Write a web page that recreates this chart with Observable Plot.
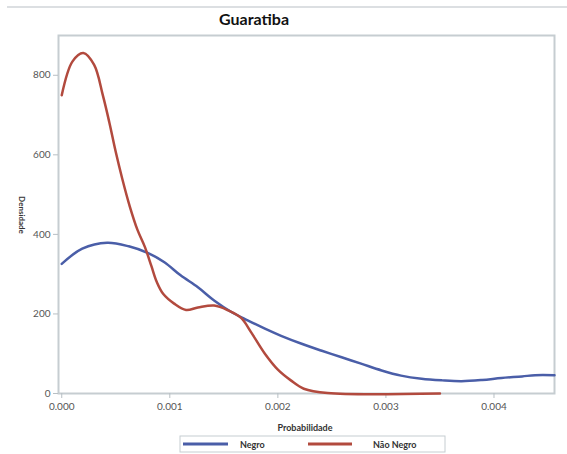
<!DOCTYPE html>
<html>
<head>
<meta charset="utf-8">
<script src="https://cdn.jsdelivr.net/npm/d3@7"></script>
<script src="https://cdn.jsdelivr.net/npm/@observablehq/plot@0.6"></script>
<style>
  html, body { margin: 0; padding: 0; background: #fff; }
  #chart { width: 567px; height: 454px; }
</style>
</head>
<body>
<div id="chart"></div>
<script>
// ---- data ----
const title = "Guaratiba";
const xLabel = "Probabilidade";
const yLabel = "Densidade";
const seriesNames = ["Negro", "Não Negro"];
const seriesColors = ["#4a5ea8", "#b24a3e"];
const xTicks = [0, 0.001, 0.002, 0.003, 0.004];
const yTicks = [0, 200, 400, 600, 800];

const negroX = [0, 0.00019, 0.00042, 0.00062, 0.0008, 0.00095, 0.0011, 0.00126, 0.00141, 0.00157, 0.00172, 0.00188, 0.00203, 0.00222, 0.0024, 0.00259, 0.00277, 0.00296, 0.00314, 0.00333, 0.00352, 0.0037, 0.00389, 0.00407, 0.00426, 0.00438, 0.00456];
const negroY = [326, 364, 379, 370, 353, 330, 297, 267, 234, 205, 184, 163, 145, 125, 108, 91, 75, 58, 45, 37, 33, 31, 34, 39, 43, 46, 46];

const naoNegroX = [0, 0.0001, 0.0002, 0.0003, 0.00038, 0.00044, 0.0005, 0.00056, 0.00063, 0.0007, 0.00077, 0.00083, 0.00088, 0.00094, 0.00104, 0.00115, 0.00126, 0.00141, 0.00154, 0.00166, 0.00175, 0.00188, 0.002, 0.00212, 0.00224, 0.00246, 0.0035];
const naoNegroY = [750, 835, 856, 826, 750, 682, 607, 540, 470, 412, 368, 320, 280, 250, 226, 210, 216, 221, 209, 190, 155, 100, 60, 33, 12, 1, 0];

const rows = [
  ...negroX.map((x, i) => ({x, y: negroY[i], s: seriesNames[0]})),
  ...naoNegroX.map((x, i) => ({x, y: naoNegroY[i], s: seriesNames[1]}))
];

const W = 567, H = 454;
const plot = Plot.plot({
  width: W,
  height: H,
  marginTop: 35,
  marginLeft: 58,
  marginRight: 13,
  marginBottom: 61,
  style: {fontFamily: "Lato, 'Liberation Sans', sans-serif", fontSize: "10px", color: "#555"},
  x: {domain: [-0.00003, 0.00456], label: null},
  y: {domain: [0, 900], label: null},
  color: {domain: seriesNames, range: seriesColors},
  marks: [
    Plot.frame({stroke: "#c6cdd1", strokeWidth: 2}),
    Plot.axisX({ticks: xTicks, tickFormat: d3.format(".3f"), stroke: "#b8bfc4", fill: "#555", tickSize: 5, tickPadding: 4, label: null}),
    Plot.axisY({ticks: yTicks, stroke: "#b8bfc4", fill: "#555", tickSize: 5, tickPadding: 3, label: null}),
    Plot.line(rows, {x: "x", y: "y", z: "s", stroke: "s", strokeWidth: 2.5, curve: "catmull-rom"})
  ]
});

const svg = d3.select(plot);
// top separator line
svg.append("line").attr("x1", 7).attr("x2", W).attr("y1", 7).attr("y2", 7)
  .attr("stroke", "#d0d4d8").attr("stroke-width", 1.5);
// title
svg.append("text").attr("x", 254).attr("y", 25).attr("text-anchor", "middle")
  .style("font-family", "Lato, sans-serif").style("font-weight", "bold").style("font-size", "16px")
  .attr("fill", "#111").text(title);
// y label
svg.append("text").attr("transform", "translate(19,215) rotate(90)").attr("text-anchor", "middle")
  .style("font-family", "Lato, sans-serif").style("font-weight", "bold").style("font-size", "8px")
  .attr("fill", "#333").text(yLabel);
// x label
svg.append("text").attr("x", 305).attr("y", 431).attr("text-anchor", "middle")
  .style("font-family", "Lato, sans-serif").style("font-weight", "bold").style("font-size", "9px")
  .attr("fill", "#333").text(xLabel);
// legend
const lg = svg.append("g");
lg.append("rect").attr("x", 180).attr("y", 436).attr("width", 265).attr("height", 16)
  .attr("fill", "none").attr("stroke", "#c6cdd1").attr("stroke-width", 1);
const items = [{x0: 183, x1: 228, tx: 240}, {x0: 308, x1: 352, tx: 373}];
seriesNames.forEach((n, i) => {
  lg.append("line").attr("x1", items[i].x0).attr("x2", items[i].x1).attr("y1", 444).attr("y2", 444)
    .attr("stroke", seriesColors[i]).attr("stroke-width", 3);
  lg.append("text").attr("x", items[i].tx).attr("y", 447.5).attr("text-anchor", "start")
    .style("font-family", "Lato, sans-serif").style("font-weight", "bold").style("font-size", "9px")
    .attr("fill", "#333").text(n);
});

document.getElementById("chart").appendChild(plot);
</script>
</body>
</html>
